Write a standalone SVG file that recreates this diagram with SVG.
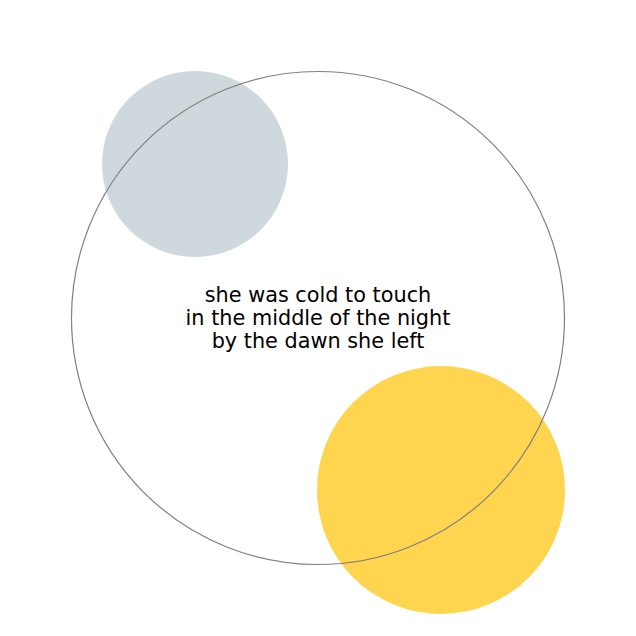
<svg xmlns="http://www.w3.org/2000/svg" width="636" height="636" viewBox="0 0 636 636">
<style>
.lbl{font-family:"DejaVu Sans",sans-serif;font-size:20.8px;fill:#000;text-anchor:middle}
</style>
<rect width="636" height="636" fill="#fff"/>
<g id="gray"><circle cx="195" cy="164" r="93" fill="#cfd8dc"/></g>
<g id="yellow"><circle cx="441" cy="490" r="124" fill="#ffd54f"/></g>
<g id="main">
<circle cx="318" cy="318" r="246.5" fill="none" stroke="#808080" stroke-width="1.2"/>
<text class="lbl" x="318" y="301.5">she was cold to touch</text>
<text class="lbl" x="318" y="324.5">in the middle of the night</text>
<text class="lbl" x="318" y="347.5">by the dawn she left</text>
</g>
</svg>
